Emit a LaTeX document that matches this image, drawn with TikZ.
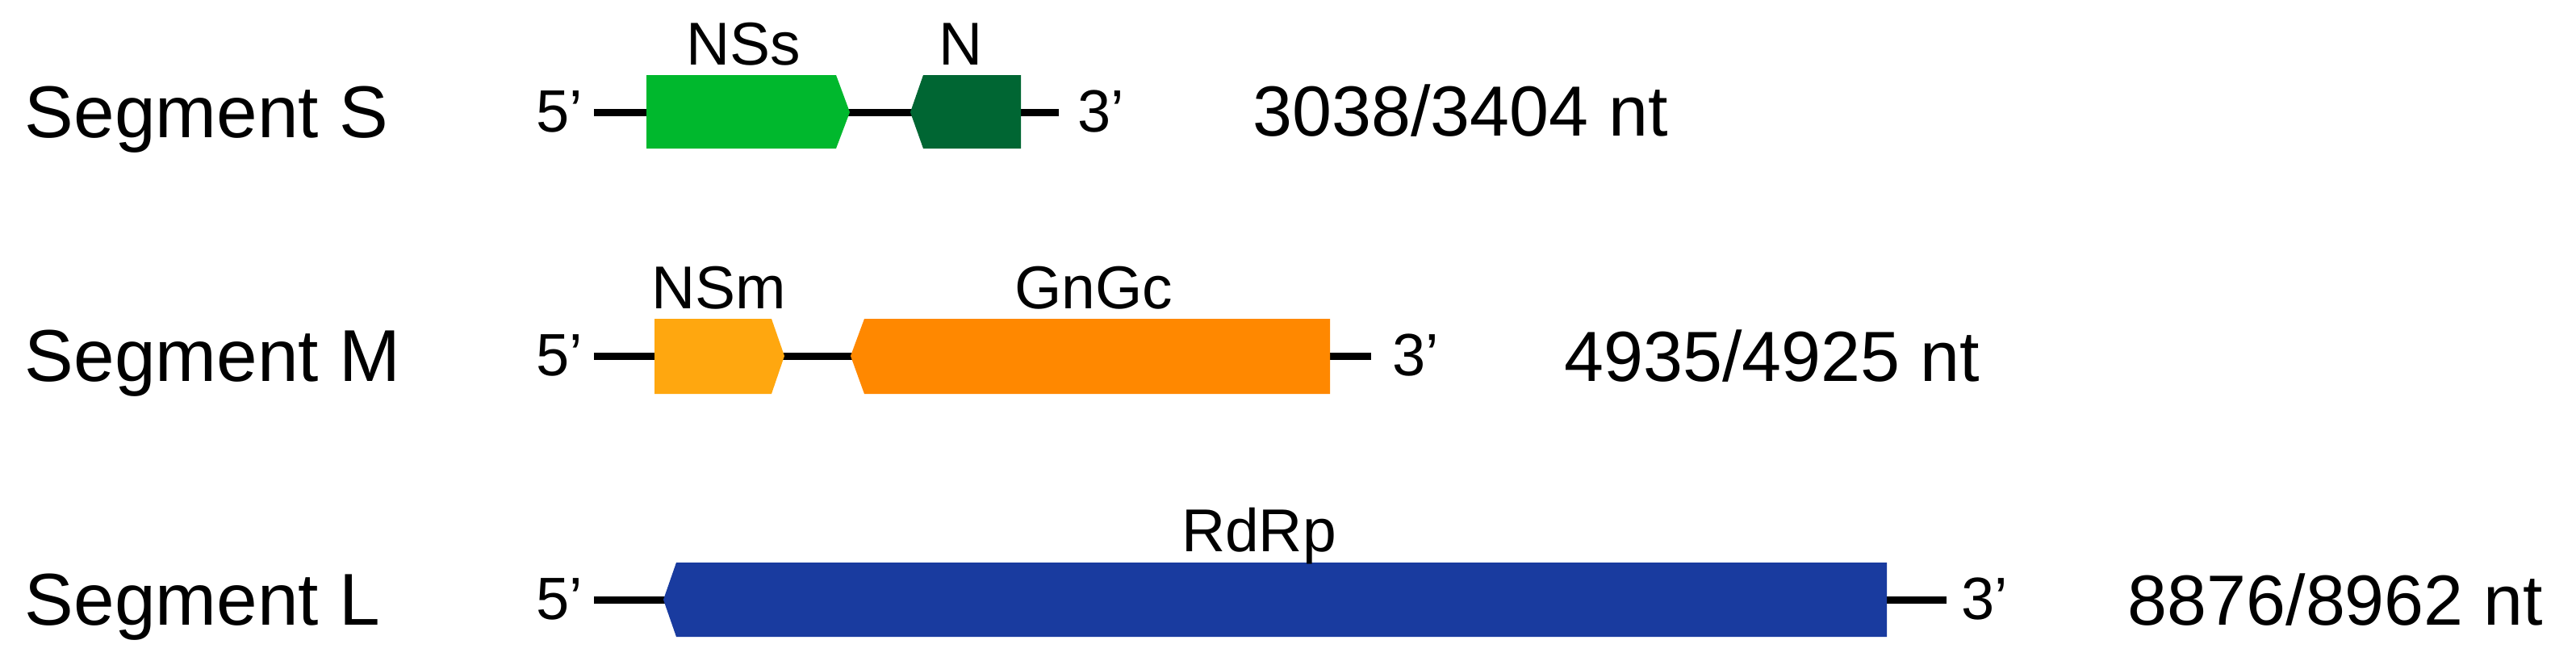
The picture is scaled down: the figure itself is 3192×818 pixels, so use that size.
\documentclass[tikz,border=0pt]{standalone}
\usepackage{fontspec}
\setmainfont{Liberation Sans}
\definecolor{nssgreen}{RGB}{0,184,45}
\definecolor{ngreen}{RGB}{0,102,51}
\definecolor{nsmorange}{RGB}{255,167,15}
\definecolor{gnorange}{RGB}{255,136,0}
\definecolor{rdrpblue}{RGB}{25,59,159}
\tikzset{
  backbone/.style={line width=2.25pt, black},
  segtext/.style={inner sep=0pt, anchor=base west, font=\fontsize{22.75}{26}\selectfont},
  nttext/.style={inner sep=0pt, anchor=base west, font=\fontsize{22}{26}\selectfont},
  endtext/.style={inner sep=0pt, anchor=base west, font=\fontsize{18.5}{22}\selectfont},
  genetext/.style={inner sep=0pt, anchor=base, font=\fontsize{18.75}{22}\selectfont},
  gene/.style={draw=none}
}
\begin{document}
\begin{tikzpicture}[x=0.25pt,y=-0.25pt]
\useasboundingbox (0,0) rectangle (3192,818);
% ---------- Segment S ----------
\node[segtext] (segS) at (30,170) {Segment S};
\node[endtext] (s5) at (664,163) {5’};
\node[endtext] (s3) at (1335,163) {3’};
\coordinate (s5e) at (736,139);
\coordinate (s3e) at (1312,139);
\draw[backbone] (s5e) -- (s3e);
\fill[nssgreen] (801,93) -- (1036,93) -- (1053,139) -- (1036,184) -- (801,184) -- cycle;
\fill[ngreen] (1128,139) -- (1144,93) -- (1265,93) -- (1265,184) -- (1144,184) -- cycle;
\node[genetext] (nss) at (921,80) {NSs};
\node[genetext] (n) at (1191,80) {N};
\node[nttext] (ntS) at (1552,168) {3038/3404 nt};
% ---------- Segment M ----------
\node[segtext] (segM) at (30,472) {Segment M};
\node[endtext] (m5) at (664,465) {5’};
\node[endtext] (m3) at (1725,465) {3’};
\coordinate (m5e) at (736,441);
\coordinate (m3e) at (1699,441);
\draw[backbone] (m5e) -- (m3e);
\fill[nsmorange] (811,395) -- (956,395) -- (972,441) -- (956,488) -- (811,488) -- cycle;
\fill[gnorange] (1054,441) -- (1071,395) -- (1648,395) -- (1648,488) -- (1071,488) -- cycle;
\node[genetext] (nsm) at (891,382) {NSm};
\node[genetext] (gngc) at (1355,382) {GnGc};
\node[nttext] (ntM) at (1938,472) {4935/4925 nt};
% ---------- Segment L ----------
\node[segtext] (segL) at (30,774) {Segment L};
\node[endtext] (l5) at (664,767) {5’};
\node[endtext] (l3) at (2430,767) {3’};
\coordinate (l5e) at (736,743);
\coordinate (l3e) at (2412,743);
\draw[backbone] (l5e) -- (l3e);
\fill[rdrpblue] (822,743) -- (838,697) -- (2338,697) -- (2338,789) -- (838,789) -- cycle;
\node[genetext] (rdrp) at (1560,683) {RdRp};
\node[nttext] (ntL) at (2636,774) {8876/8962 nt};
\end{tikzpicture}
\end{document}
